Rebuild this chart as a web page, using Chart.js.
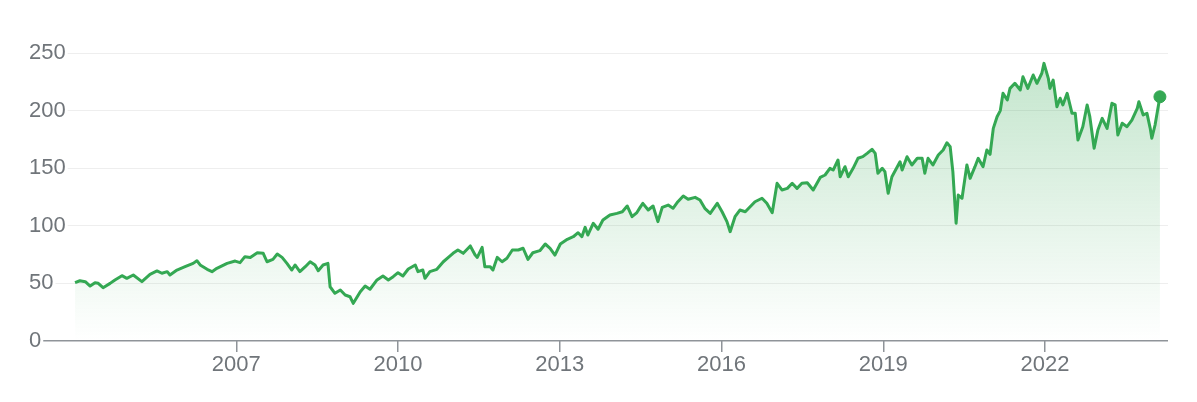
<!DOCTYPE html>
<html>
<head>
<meta charset="utf-8">
<script src="https://cdn.jsdelivr.net/npm/chart.js@4.4.0/dist/chart.umd.min.js"></script>
<style>
  html, body { margin: 0; padding: 0; background: #fff; }
  #wrap { width: 1197px; height: 402px; }
</style>
</head>
<body>
<div id="wrap"><canvas id="priceChart"></canvas></div>
<script>
// Price history (decimal year, price)
const years = [
  2004.01, 2004.10, 2004.20, 2004.29, 2004.38, 2004.44, 2004.53, 2004.66, 2004.75, 2004.88,
  2004.97, 2005.09, 2005.25, 2005.40, 2005.53, 2005.62, 2005.72, 2005.77, 2005.90, 2006.05,
  2006.20, 2006.27, 2006.33, 2006.46, 2006.55, 2006.64, 2006.83, 2006.98, 2007.07, 2007.16,
  2007.26, 2007.39, 2007.50, 2007.57, 2007.68, 2007.76, 2007.85, 2007.94, 2008.03, 2008.09,
  2008.18, 2008.28, 2008.37, 2008.46, 2008.52, 2008.61, 2008.70, 2008.74, 2008.83, 2008.93,
  2009.02, 2009.11, 2009.17, 2009.30, 2009.39, 2009.48, 2009.61, 2009.72, 2009.82, 2009.91,
  2010.00, 2010.09, 2010.19, 2010.32, 2010.37, 2010.46, 2010.50, 2010.59, 2010.72, 2010.84,
  2010.95, 2011.02, 2011.11, 2011.21, 2011.34, 2011.43, 2011.47, 2011.56, 2011.61, 2011.71,
  2011.76, 2011.84, 2011.93, 2012.02, 2012.12, 2012.23, 2012.32, 2012.41, 2012.50, 2012.63,
  2012.73, 2012.82, 2012.91, 2013.01, 2013.14, 2013.25, 2013.34, 2013.41, 2013.47, 2013.52,
  2013.62, 2013.71, 2013.80, 2013.93, 2014.06, 2014.16, 2014.25, 2014.34, 2014.43, 2014.49,
  2014.54, 2014.64, 2014.73, 2014.82, 2014.90, 2015.01, 2015.10, 2015.19, 2015.29, 2015.38,
  2015.51, 2015.60, 2015.69, 2015.79, 2015.92, 2016.01, 2016.10, 2016.16, 2016.25, 2016.34,
  2016.44, 2016.53, 2016.62, 2016.75, 2016.84, 2016.94, 2017.03, 2017.12, 2017.22, 2017.31,
  2017.40, 2017.49, 2017.59, 2017.70, 2017.83, 2017.92, 2018.01, 2018.07, 2018.16, 2018.20,
  2018.29, 2018.35, 2018.44, 2018.53, 2018.62, 2018.70, 2018.79, 2018.85, 2018.90, 2018.98,
  2019.03, 2019.09, 2019.16, 2019.26, 2019.31, 2019.35, 2019.44, 2019.53, 2019.63, 2019.72,
  2019.77, 2019.83, 2019.92, 2020.02, 2020.11, 2020.18, 2020.24, 2020.29, 2020.35, 2020.39,
  2020.46, 2020.55, 2020.61, 2020.70, 2020.76, 2020.85, 2020.92, 2020.98, 2021.04, 2021.11,
  2021.17, 2021.22, 2021.30, 2021.35, 2021.44, 2021.54, 2021.59, 2021.68, 2021.78, 2021.85,
  2021.94, 2021.98, 2022.06, 2022.09, 2022.15, 2022.22, 2022.28, 2022.33, 2022.41, 2022.50,
  2022.56, 2022.61, 2022.70, 2022.78, 2022.83, 2022.91, 2022.98, 2023.06, 2023.15, 2023.24,
  2023.30, 2023.35, 2023.43, 2023.52, 2023.61, 2023.71, 2023.74, 2023.82, 2023.89, 2023.95,
  2023.98, 2024.04, 2024.13
];
const prices = [
  50.6, 52.3, 51.5, 47.7, 50.6, 50.1, 46.3, 50.0, 53.0, 56.7,
  54.4, 57.3, 51.5, 57.9, 60.8, 58.8, 60.2, 57.3, 61.6, 64.5,
  67.4, 69.7, 66.0, 62.2, 60.2, 63.1, 67.4, 69.4, 68.0, 73.2,
  72.5, 76.6, 76.1, 68.8, 70.9, 75.5, 72.6, 67.4, 61.6, 66.0,
  60.2, 64.5, 68.8, 66.0, 61.0, 66.0, 67.4, 47.1, 41.4, 44.3,
  39.9, 38.4, 32.7, 42.8, 47.7, 44.9, 53.0, 56.4, 53.0, 55.8,
  59.3, 56.4, 62.5, 66.0, 60.2, 61.6, 54.4, 60.2, 62.2, 68.8,
  73.2, 76.1, 79.0, 76.1, 82.5, 74.6, 72.6, 81.3, 64.5, 64.5,
  61.6, 72.6, 68.8, 71.8, 79.0, 79.0, 80.5, 70.9, 76.6, 78.4,
  84.2, 80.5, 74.6, 84.2, 88.3, 90.5, 94.0, 90.5, 98.7, 92.0,
  102.2, 97.0, 105.0, 109.4, 110.8, 112.2, 117.2, 107.9, 111.5, 116.0,
  119.5, 113.7, 117.2, 103.6, 116.0, 118.0, 115.2, 120.9, 125.9, 123.0,
  124.7, 122.4, 115.2, 110.8, 119.5, 112.2, 103.6, 94.9, 107.9, 113.7,
  112.2, 116.6, 120.9, 123.9, 119.5, 111.4, 136.9, 131.1, 132.5, 136.9,
  132.5, 136.9, 137.4, 131.1, 142.0, 144.1, 149.9, 148.4, 157.1, 142.6,
  151.3, 142.6, 149.9, 158.6, 160.0, 162.9, 166.4, 162.9, 145.6, 149.9,
  147.0, 128.2, 142.6, 151.3, 155.6, 148.4, 160.0, 152.8, 158.6, 158.6,
  145.6, 158.6, 152.8, 161.5, 165.8, 172.1, 168.7, 147.0, 102.2, 126.7,
  123.9, 152.8, 141.2, 151.3, 158.6, 151.3, 165.8, 162.0, 184.6, 194.7,
  200.0, 215.0, 209.2, 219.3, 223.7, 217.9, 229.4, 219.3, 230.9, 223.7,
  232.4, 241.0, 228.0, 219.3, 226.5, 203.4, 210.7, 204.9, 215.0, 197.6,
  197.6, 174.5, 186.0, 204.9, 194.7, 167.3, 183.1, 193.3, 184.6, 206.3,
  204.9, 178.8, 189.0, 186.0, 191.8, 202.0, 207.7, 196.2, 197.6, 184.6,
  176.0, 187.5, 212.0
];
const yearTicks = [2007, 2010, 2013, 2016, 2019, 2022];
const valueTicks = [0, 50, 100, 150, 200, 250];

const green = '#34a853';
const labelFont = { family: 'Arial, "Liberation Sans", sans-serif', size: 22 };

new Chart(document.getElementById('priceChart'), {
    type: 'line',
    data: {
        datasets: [{
            data: years.map((yr, i) => ({ x: yr, y: prices[i] })),
            borderColor: green,
            borderWidth: 3,
            borderJoinStyle: 'round',
            tension: 0,
            fill: 'origin',
            backgroundColor: context => {
                const area = context.chart.chartArea;
                if (!area) return 'rgba(52,168,83,0.15)';
                const g = context.chart.ctx.createLinearGradient(0, area.top, 0, area.bottom);
                g.addColorStop(0, 'rgba(52,168,83,0.3)');
                g.addColorStop(1, 'rgba(52,168,83,0.0)');
                return g;
            },
            pointRadius: context => context.dataIndex === prices.length - 1 ? 6 : 0,
            pointHoverRadius: 0,
            pointBackgroundColor: green,
            pointBorderColor: green,
            pointBorderWidth: 1,
            clip: false
        }]
    },
    options: {
        responsive: true,
        maintainAspectRatio: false,
        animation: false,
        layout: { padding: { left: 29, right: 29, top: 53, bottom: 0 } },
        scales: {
            x: {
                type: 'linear',
                min: 2003.36,
                max: 2024.28,
                afterBuildTicks: scale => {
                    scale.ticks = yearTicks.map(v => ({ value: v }));
                },
                afterFit: scale => { scale.height = 61; },
                border: { display: false },
                grid: {
                    drawOnChartArea: false,
                    drawTicks: true,
                    tickLength: 11,
                    color: '#8f9499',
                    lineWidth: 1.5
                },
                ticks: {
                    color: '#70757a',
                    font: labelFont,
                    padding: 0,
                    maxRotation: 0,
                    callback: value => String(value)
                }
            },
            y: {
                min: 0,
                max: 250,
                afterBuildTicks: scale => {
                    scale.ticks = valueTicks.map(v => ({ value: v }));
                },
                afterFit: scale => { scale.width = 11; },
                border: { display: false },
                grid: {
                    drawTicks: false,
                    color: context => context.tick.value === 0 ? '#8f9499' : '#eeeeee',
                    lineWidth: context => context.tick.value === 0 ? 1.5 : 1
                },
                ticks: {
                    color: '#70757a',
                    font: labelFont,
                    mirror: true,
                    crossAlign: 'near',
                    padding: -11,
                    showLabelBackdrop: true,
                    backdropColor: '#ffffff',
                    backdropPadding: { top: 0, bottom: 0, left: 0, right: 2 }
                }
            }
        },
        plugins: {
            legend: { display: false },
            tooltip: { enabled: false }
        }
    }
});
</script>
</body>
</html>
